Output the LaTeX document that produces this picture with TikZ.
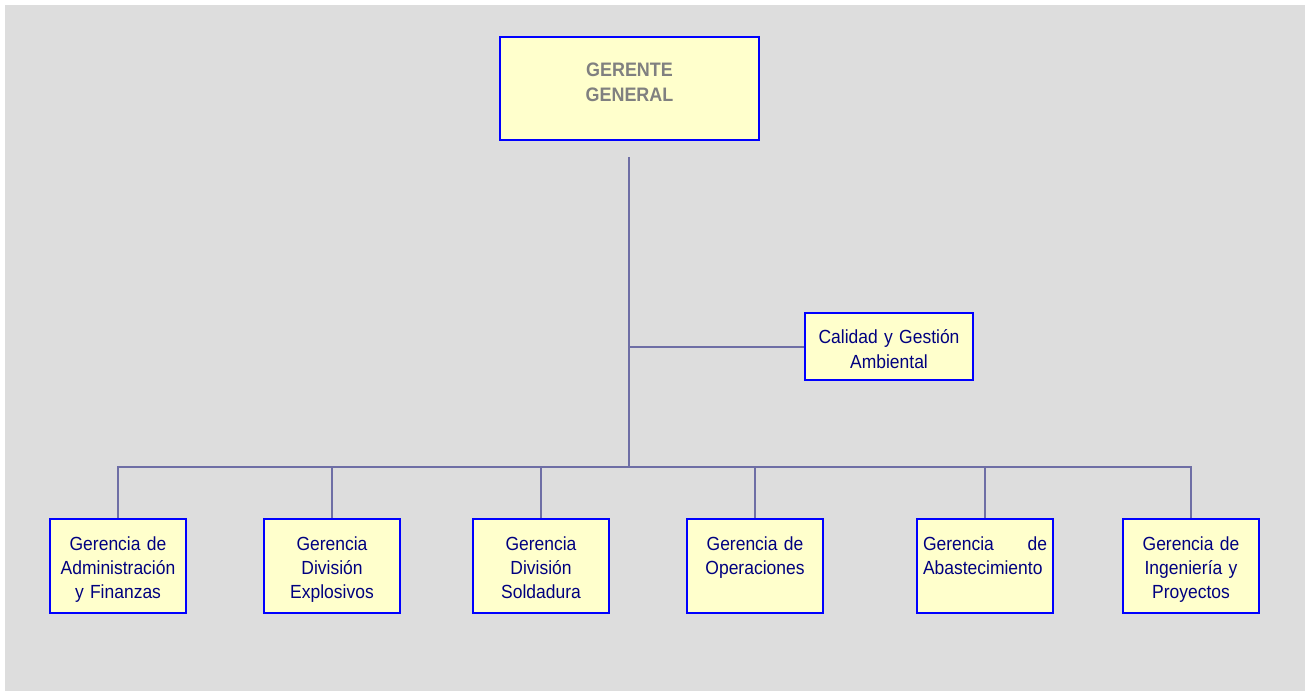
\documentclass[tikz,border=0pt]{standalone}
\usepackage{fontspec}
\setmainfont{Liberation Sans}[FakeStretch=0.92]

\definecolor{bggray}{RGB}{221,221,221}
\definecolor{boxfill}{RGB}{255,255,204}
\definecolor{boxblue}{RGB}{0,0,255}
\definecolor{navy}{RGB}{0,0,128}
\definecolor{headgray}{RGB}{128,128,128}
\definecolor{linkgray}{RGB}{110,110,165}

\begin{document}
\begin{tikzpicture}[x=1pt, y=-1pt]

    % Styles
    \tikzstyle{headbox} = [rectangle, draw=boxblue, line width=2.4pt, fill=boxfill, inner sep=0pt, text width=259pt, align=center, text height=39pt, text depth=64pt, text=headgray, font=\fontsize{19.5}{25}\selectfont\bfseries]
    \tikzstyle{staffbox} = [rectangle, draw=boxblue, line width=2pt, fill=boxfill, inner sep=0pt, text width=168pt, align=center, text height=30pt, text depth=37pt, text=navy, font=\fontsize{19}{25}\selectfont]
    \tikzstyle{unitbox} = [rectangle, draw=boxblue, line width=2pt, fill=boxfill, inner sep=0pt, text width=136pt, align=center, text height=31pt, text depth=63pt, text=navy, font=\fontsize{19}{24}\selectfont]
    \tikzstyle{link} = [draw=linkgray, line width=2pt]

    % Background
    \useasboundingbox (0,0) rectangle (1305,691);
    \fill[bggray] (5,5) rectangle (1305,691);

    % General manager
    \node[headbox] (gerente) at (629.5,88.5) {GERENTE\\GENERAL};

    % Staff
    \node[staffbox] (calidad) at (889,346.5) {Calidad y Gestión\\Ambiental};

    % Managements
    \node[unitbox] (adm) at (118,566) {Gerencia de\\Administración\\y Finanzas};
    \node[unitbox] (expl) at (332,566) {Gerencia\\División\\Explosivos};
    \node[unitbox] (sold) at (541,566) {Gerencia\\División\\Soldadura};
    \node[unitbox] (oper) at (755,566) {Gerencia de\\Operaciones};
    \node[unitbox, text width=124pt, inner xsep=6pt, align=left] (abast) at (985,566) {Gerencia\hfill de\\Abastecimiento};
    \node[unitbox] (ing) at (1191,566) {Gerencia de\\Ingeniería y\\Proyectos};

    % Lines
    \coordinate (trunk_top) at (629,157);
    \coordinate (bus) at (629,467);

    \draw[link] (trunk_top) -- (bus);
    \draw[link] (trunk_top |- calidad.west) -- (calidad.west);

    \draw[link] (adm.north) |- (bus) -| (ing.north);
    \foreach \n in {expl, sold, oper, abast}
        \draw[link] (\n.north) -- (\n.north |- bus);

\end{tikzpicture}
\end{document}
